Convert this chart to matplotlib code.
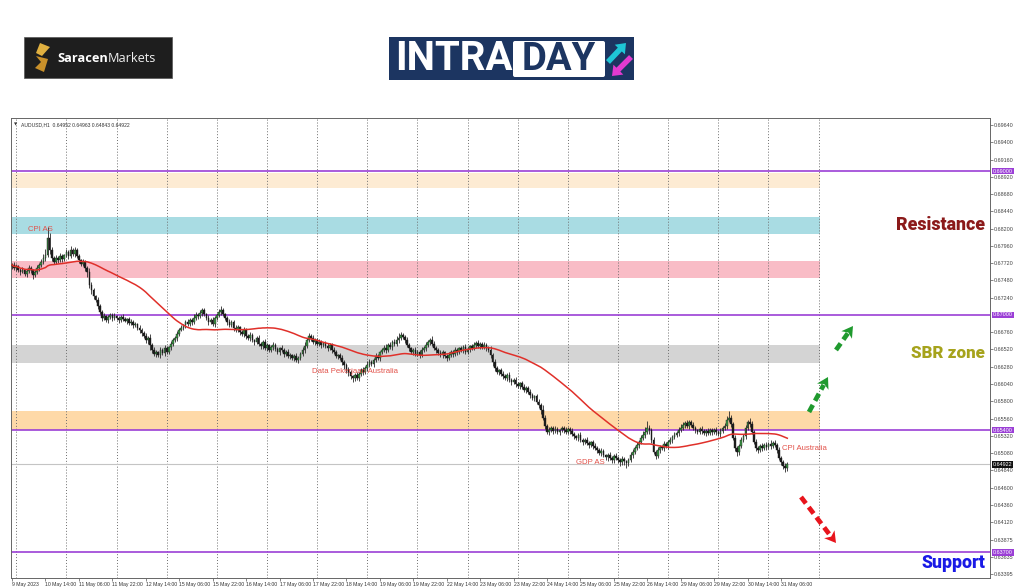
import numpy as np
import pandas as pd
import matplotlib
matplotlib.use("Agg")
import matplotlib.pyplot as plt
from matplotlib.patches import Rectangle, FancyBboxPatch, Polygon, FancyArrow
from matplotlib.lines import Line2D
from matplotlib.transforms import Affine2D, blended_transform_factory

# AUDUSD H1 closes (x 1e-5), 9 May 22:00 -> 31 May 09:00
first_open = 67680
closes = [
    67694, 67652, 67680, 67625, 67597, 67625, 67569, 67611, 67652,
    67625, 67555, 67597, 67652, 67694, 67736, 67791,
    67833, 68069, 67903, 67791, 67736, 67791, 67764, 67819, 67777,
    67833, 67875, 67819, 67903, 67847, 67903, 67819, 67764,
    67708, 67736, 67652, 67597, 67416, 67347, 67263, 67208, 67124, 67041, 66957,
    66985, 66930, 66971, 66999, 66957, 66985, 66957, 66930, 66971, 66944,
    66916, 66944, 66888, 66902, 66860, 66874, 66818, 66791, 66749, 66707,
    66652, 66679, 66582, 66513, 66457, 66485, 66443, 66513, 66471, 66540,
    66485, 66554, 66596, 66652, 66679, 66735, 66791, 66818, 66860, 66902,
    66874, 66930, 66902, 66957, 66999, 66985, 67027, 67069, 67013, 66957,
    66902, 66930, 66874, 66957, 66999, 67041, 67069, 67013, 66957, 66902,
    66860, 66902, 66818, 66791, 66832, 66763, 66735, 66791, 66707, 66679,
    66721, 66652, 66624, 66679, 66596, 66568, 66624, 66540, 66582, 66513,
    66554, 66582, 66526, 66485, 66540, 66513, 66457, 66485, 66429, 66443,
    66401, 66429, 66374, 66401, 66457, 66513, 66568, 66652, 66707, 66679,
    66624, 66652, 66596, 66624, 66582, 66610, 66568, 66540, 66582, 66513,
    66485, 66429, 66443, 66401, 66346, 66304, 66235, 66207, 66151, 66123,
    66165, 66123, 66179, 66235, 66207, 66262, 66304, 66346, 66318, 66374,
    66429, 66401, 66485, 66513, 66540, 66513, 66582, 66554, 66624, 66596,
    66652, 66679, 66721, 66693, 66652, 66582, 66540, 66485, 66513, 66457,
    66485, 66443, 66513, 66540, 66582, 66624, 66652, 66596, 66540, 66513,
    66471, 66443, 66485, 66429, 66401, 66443, 66485, 66457, 66513, 66485,
    66540, 66513, 66554, 66485, 66526, 66568, 66540, 66582, 66610, 66568,
    66596, 66554, 66582, 66540, 66513, 66443, 66346, 66262, 66207, 66235,
    66179, 66151, 66123, 66165, 66096, 66068, 66096, 66040, 66012, 66054,
    65998, 65957, 65985, 65929, 65887, 65845, 65873, 65790, 65748, 65679,
    65568, 65456, 65373, 65401, 65429, 65387, 65415, 65373, 65401, 65429,
    65401, 65373, 65415, 65387, 65345, 65317, 65289, 65331, 65262, 65234,
    65262, 65220, 65192, 65234, 65178, 65151, 65123, 65081, 65109, 65053,
    65025, 65053, 65011, 64984, 65039, 65011, 64984, 64956, 64997, 64970,
    64942, 64984, 65053, 65095, 65151, 65192, 65234, 65289, 65331, 65373,
    65429, 65401, 65262,
    65095, 65039, 65123, 65164, 65151, 65206, 65178, 65234, 65262, 65303,
    65331, 65359, 65401, 65429, 65470, 65498, 65456, 65512, 65470, 65429,
    65401, 65373, 65415, 65387, 65359, 65387, 65359, 65401, 65373, 65401,
    65373, 65345, 65387, 65429,
    65456, 65540, 65568, 65484, 65289, 65151, 65095, 65178,
    65262, 65317, 65429, 65512, 65484, 65373, 65234, 65151, 65123, 65178,
    65151, 65192, 65164, 65206, 65178, 65220, 65192, 65123, 65011, 64956,
    64900, 64873, 64922,
]
# wick lengths, in units of 1.5 pips
wick_up = [
    2, 3, 2, 1, 2, 3, 1, 2, 3, 2, 1, 2, 3, 2, 3, 4, 6, 10, 5, 3, 2, 3, 2, 3,
    2, 1, 3, 2, 4, 2, 3, 2, 2, 1, 3, 2, 2, 4, 3, 2, 1, 3, 2, 2, 3, 1, 2, 2,
    2, 3, 1, 2, 2, 3, 2, 1, 2, 3, 2, 2, 1, 3, 2, 2, 3, 2, 4, 2, 3, 2, 1, 3,
    2, 3, 2, 1, 3, 2, 2, 3, 2, 3, 1, 2, 3, 2, 2, 4, 3, 2, 3, 2, 2, 1, 3, 2,
    3, 2, 2, 3, 4, 2, 1, 2, 3, 2, 2, 3, 2, 1, 2, 3, 2, 2, 3, 2, 1, 2, 3, 2,
    2, 3, 2, 1, 2, 3, 2, 2, 1, 3, 2, 2, 3, 2, 1, 2, 3, 2, 2, 3, 4, 2, 3, 2,
    3, 2, 2, 3, 2, 1, 2, 3, 2, 2, 3, 2, 1, 2, 3, 2, 2, 3, 2, 1, 2, 3, 2, 2,
    3, 2, 4, 3, 2, 2, 3, 2, 1, 2, 3, 4, 2, 3, 2, 3, 4, 5, 3, 2, 2, 3, 2, 1,
    2, 3, 2, 2, 3, 2, 3, 2, 2, 4, 3, 2, 2, 3, 2, 1, 2, 3, 2, 2, 3, 2, 1, 2,
    2, 3, 2, 1, 2, 3, 2, 3, 2, 2, 3, 2, 2, 4, 2, 3, 2, 1, 2, 3, 2, 2, 3, 2,
    2, 3, 2, 1, 2, 3, 2, 2, 3, 2, 1, 2, 3, 2, 5, 3, 2, 3, 2, 2, 3, 2, 1, 2,
    2, 3, 2, 2, 3, 2, 1, 2, 3, 2, 2, 3, 2, 1, 2, 3, 2, 2, 3, 2, 1, 2, 3, 2,
    2, 3, 2, 2, 3, 2, 1, 2, 3, 3, 2, 3, 2, 3, 4, 5, 6, 3, 2, 3, 2, 3, 2, 2,
    3, 2, 2, 3, 2, 3, 2, 3, 4, 3, 2, 3, 2, 2, 3, 2, 1, 2, 3, 2, 2, 3, 2, 2,
    2, 3, 2, 3, 2, 3, 4, 6, 3, 2, 3, 2, 2, 3, 2, 3, 2, 4, 3, 2, 3, 2, 2, 3,
    2, 3, 2, 4, 2, 3, 2, 3, 2, 2, 3, 2,
]
wick_down = [
    3, 2, 3, 2, 3, 1, 2, 3, 2, 3, 4, 2, 2, 3, 2, 2, 3, 2, 4, 3, 2, 2, 3, 2,
    3, 2, 2, 3, 2, 2, 3, 2, 3, 2, 2, 3, 5, 3, 4, 3, 2, 3, 2, 3, 2, 2, 3, 2,
    3, 2, 2, 3, 2, 2, 1, 3, 2, 2, 3, 2, 2, 3, 3, 2, 3, 4, 5, 3, 2, 3, 2, 3,
    2, 3, 2, 2, 3, 2, 2, 3, 2, 1, 2, 3, 2, 2, 3, 2, 2, 3, 2, 3, 2, 2, 3, 2,
    2, 3, 2, 2, 3, 2, 2, 3, 2, 2, 3, 2, 2, 3, 2, 3, 3, 2, 3, 2, 3, 2, 2, 3,
    3, 2, 3, 2, 2, 3, 2, 2, 3, 2, 3, 2, 2, 3, 2, 3, 2, 3, 2, 2, 3, 2, 2, 3,
    2, 3, 2, 2, 3, 2, 2, 3, 2, 3, 2, 2, 3, 2, 3, 4, 3, 4, 3, 4, 3, 2, 3, 2,
    3, 2, 3, 2, 2, 3, 2, 2, 3, 2, 2, 3, 2, 2, 3, 2, 2, 3, 2, 2, 3, 2, 3, 2,
    3, 2, 2, 3, 2, 2, 3, 2, 3, 2, 2, 3, 2, 2, 3, 2, 3, 2, 2, 3, 2, 3, 2, 2,
    3, 2, 2, 3, 2, 2, 3, 2, 3, 2, 2, 3, 2, 3, 4, 3, 2, 3, 2, 3, 2, 3, 2, 3,
    2, 3, 2, 3, 2, 2, 3, 2, 3, 2, 3, 2, 3, 4, 2, 3, 2, 3, 2, 3, 2, 2, 3, 2,
    3, 2, 2, 3, 2, 3, 2, 3, 2, 3, 2, 2, 3, 2, 3, 2, 3, 2, 3, 2, 3, 4, 2, 3,
    3, 2, 3, 4, 3, 4, 5, 3, 2, 3, 2, 2, 3, 2, 2, 3, 2, 4, 3, 2, 3, 2, 3, 2,
    3, 2, 3, 2, 3, 2, 2, 3, 2, 2, 3, 2, 3, 2, 2, 3, 2, 2, 3, 2, 3, 2, 2, 3,
    2, 3, 2, 3, 2, 2, 3, 2, 3, 2, 3, 4, 3, 2, 2, 3, 2, 3, 2, 2, 3, 3, 2, 3,
    2, 3, 2, 3, 2, 2, 3, 2, 3, 3, 4, 3,
]

x_labels = ["9 May 2023", "10 May 14:00", "11 May 06:00", "11 May 22:00", "12 May 14:00",
            "15 May 06:00", "15 May 22:00", "16 May 14:00", "17 May 06:00", "17 May 22:00",
            "18 May 14:00", "19 May 06:00", "19 May 22:00", "22 May 14:00", "23 May 06:00",
            "23 May 22:00", "24 May 14:00", "25 May 06:00", "25 May 22:00", "26 May 14:00",
            "29 May 06:00", "29 May 22:00", "30 May 14:00", "31 May 06:00"]
price_labels = ["0.69640", "0.69400", "0.69160", "0.68920", "0.68680", "0.68440", "0.68200",
                "0.67960", "0.67720", "0.67480", "0.67240", "0.66760", "0.66520", "0.66280",
                "0.66040", "0.65800", "0.65560", "0.65320", "0.65080", "0.64840", "0.64600",
                "0.64360", "0.64120", "0.63875", "0.63635", "0.63395"]

zone_low = [0.68764, 0.68125, 0.67513, 0.66332, 0.65405]
zone_high = [0.68973, 0.68361, 0.67750, 0.66582, 0.65665]
zone_colors = ["#fdebd3", "#a9dce3", "#f9bcc6", "#d4d4d4", "#fed9a8"]
levels = [0.69000, 0.67000, 0.65400, 0.63700]
last_price = 0.64922
events = ["CPI AS", "Data Pekerjaan Australia", "GDP AS", "CPI Australia"]
event_bar = [7.7, 143.5, 270, 368.5]
event_price = [0.68194, 0.66207, 0.64942, 0.65137]


def draw_candles(ax):
    n = len(closes)
    c = np.array(closes) / 1e5
    o = np.concatenate([[first_open / 1e5], c[:-1]])
    hi = np.maximum(o, c) + np.array(wick_up[:n]) * 1.5e-4
    lo = np.minimum(o, c) - np.array(wick_down[:n]) * 1.5e-4
    x = np.arange(n)
    up = c >= o
    ax.vlines(x, lo, hi, color="#2a2a2a", lw=0.6, zorder=3)
    h = np.maximum(np.abs(c - o), 0.00005)
    b = np.minimum(o, c)
    ax.bar(x[up], h[up], bottom=b[up], width=0.8, color="#3b9a45",
           edgecolor="#1a1a1a", lw=0.3, zorder=4)
    ax.bar(x[~up], h[~up], bottom=b[~up], width=0.8, color="#1c1c1c",
           edgecolor="#1a1a1a", lw=0.3, zorder=4)
    ma = pd.Series(c).rolling(48, min_periods=1).mean()
    ax.plot(x, ma, color="#e0302a", lw=1.1, zorder=5)


def main():
    fig = plt.figure(figsize=(10.24, 5.87), dpi=100, facecolor="white")
    pix = Affine2D().scale(1 / 1024, -1 / 587).translate(0, 1) + fig.transFigure
    ax = fig.add_axes([11 / 1024, 9 / 587, 979 / 1024, 460 / 587])
    x0, x1 = -0.5, 468
    ax.set_xlim(x0, x1)
    ax.set_ylim(0.63343, 0.69737)

    zone_end = (386.5 - x0) / (x1 - x0)
    for lo, hi, col in zip(zone_low, zone_high, zone_colors):
        ax.axhspan(lo, hi, xmin=0, xmax=zone_end, color=col, lw=0, zorder=1)
    for k in range(17):
        ax.axvline(2 + 24 * k, color="#6e6e6e", lw=0.7, ls=(0, (1, 2)), zorder=2)
    for lv in levels:
        ax.axhline(lv, color="#9b3fd6", lw=1.2, zorder=2)
    ax.axhline(last_price, color="#c4c4c4", lw=0.8, zorder=2)

    draw_candles(ax)

    for name, bx, py in zip(events, event_bar, event_price):
        ax.text(bx, py, name, color="#e2524a", fontsize=5.6, family="Liberation Sans",
                va="center", ha="left", zorder=6)

    ax.text(0.003, 0.991, "\u25BC", transform=ax.transAxes, fontsize=3, color="#333",
            va="top", ha="left")
    ax.text(0.01, 0.991, "AUDUSD,H1  0.64952 0.64963 0.64843 0.64922", transform=ax.transAxes,
            fontsize=3.6, color="#333", va="top", ha="left", family="Liberation Sans")

    # axes / ticks
    ax.set_xticks([16 * k for k in range(len(x_labels))])
    ax.set_xticklabels(x_labels, ha="left", fontsize=3.7, family="Liberation Sans", color="#333")
    ax.yaxis.tick_right()
    ax.set_yticks([float(s) for s in price_labels])
    ax.set_yticklabels(price_labels, fontsize=3.9, family="Liberation Sans", color="#444")
    ax.tick_params(axis="both", direction="out", length=2, width=0.5, colors="#555", pad=1)
    ax.tick_params(axis="x", labelcolor="#333")
    ax.tick_params(axis="y", labelcolor="#444")
    for sp in ax.spines.values():
        sp.set_color("#666666")
        sp.set_linewidth(0.7)

    tr = blended_transform_factory(ax.transAxes, ax.transData)
    for lv in levels:
        ax.text(1.003, lv, f"{lv:.5f}", transform=tr, fontsize=3.9, color="white",
                family="Liberation Sans", va="center", ha="left",
                bbox=dict(boxstyle="square,pad=0.15", fc="#9b3fd6", ec="none"))
    ax.text(1.003, last_price, f"{last_price:.5f}", transform=tr, fontsize=3.9, color="white",
            family="Liberation Sans", va="center", ha="left",
            bbox=dict(boxstyle="square,pad=0.15", fc="#111111", ec="none"))

    # zone captions
    fig.text(985 / 1024, 1 - 225 / 587, "Resistance", ha="right", va="center", fontsize=12.8,
             family="Roboto", weight="black", color="#8b1a1a")
    fig.text(985 / 1024, 1 - 353 / 587, "SBR zone", ha="right", va="center", fontsize=12.2,
             family="Roboto", weight="black", color="#a6a31c")
    fig.text(985 / 1024, 1 - 563 / 587, "Support", ha="right", va="center", fontsize=12.8,
             family="Roboto", weight="black", color="#1a1ae6")

    # dashed arrows
    def dashed_arrow(xa, ya, xb, yb, color):
        dx, dy = xb - xa, yb - ya
        L = np.hypot(dx, dy)
        ux, uy = dx / L, dy / L
        hl, hw = 11, 6.5
        bx, by = xb - ux * hl, yb - uy * hl
        fig.add_artist(Line2D([xa, bx + ux * 2], [ya, by + uy * 2], transform=pix, color=color,
                              lw=3.4, dashes=(1.7, 1.0), dash_capstyle="butt"))
        px, py = -uy, ux
        tri = [(xb, yb), (bx + px * hw, by + py * hw), (bx + ux * 3, by + uy * 3),
               (bx - px * hw, by - py * hw)]
        fig.add_artist(Polygon(tri, closed=True, transform=pix, color=color, lw=0))

    dashed_arrow(809, 412, 828, 377, "#1f9a2e")
    dashed_arrow(836, 350, 853, 326, "#1f9a2e")
    dashed_arrow(801, 497, 836, 543, "#e8141c")

    # Saracen logo
    fig.add_artist(Rectangle((24, 37), 148, 41, transform=pix, fc="#1e1e1e", ec="#555", lw=0.5))
    fig.add_artist(Polygon([(40, 43), (50, 47), (42, 56), (36, 53)], transform=pix,
                           fc="#e0b040", lw=0))
    fig.add_artist(Polygon([(36, 56), (48, 59), (44, 72), (35, 68), (41, 62)], transform=pix,
                           fc="#c8902a", lw=0))
    t1 = fig.text(57 / 1024, 1 - 58 / 587, "Saracen", color="white", fontsize=9.2,
                  family="Open Sans", weight="bold", va="center", ha="left")
    fig.canvas.draw()
    bb = t1.get_window_extent()
    fig.text(bb.x1 / 1024, 1 - 58 / 587, "Markets", color="#f0f0f0", fontsize=9.2,
             family="Open Sans", va="center", ha="left")

    # INTRADAY logo
    fig.add_artist(Rectangle((389, 37), 245, 43, transform=pix, fc="#1c3561", lw=0))
    fig.text(395 / 1024, 1 - 59 / 587, "INTRA", color="white", fontsize=29,
             family="Roboto", weight="bold", va="center", ha="left")
    fig.add_artist(FancyBboxPatch((513, 41), 92, 36, boxstyle="round,pad=0,rounding_size=2",
                                  transform=pix, fc="white", lw=0))
    fig.text(559 / 1024, 1 - 59 / 587, "DAY", color="#1c3561", fontsize=27.5,
             family="Roboto", weight="bold", va="center", ha="center")
    fig.add_artist(FancyArrow(608, 62, 18, -19, width=5.5, head_width=14, head_length=9,
                              transform=pix, fc="#1ec6d6", lw=0, length_includes_head=True))
    fig.add_artist(FancyArrow(631, 57, -19, 19, width=5.5, head_width=14, head_length=9,
                              transform=pix, fc="#e33ad0", lw=0, length_includes_head=True))

    fig.savefig("out.png", dpi=100, facecolor="white")


if __name__ == "__main__":
    main()
